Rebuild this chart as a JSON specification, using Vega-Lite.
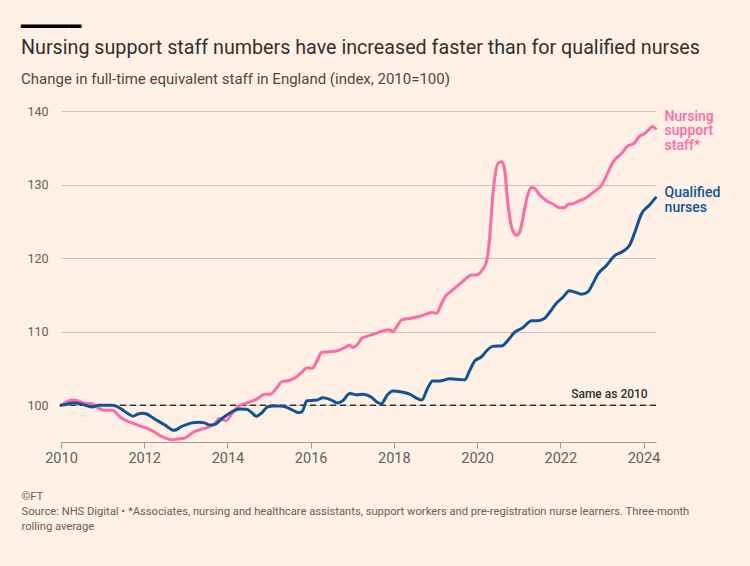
{
  "$schema": "https://vega.github.io/schema/vega-lite/v6.json",
  "background": "#FFF1E5",
  "padding": {"left": 21, "top": 17, "right": 35, "bottom": 40},
  "title": {"text": "━━━━━", "anchor": "start", "frame": "group", "dx": -40, "font": "DejaVu Sans", "fontWeight": "normal", "fontSize": 20, "color": "#000000", "offset": 1},
  "datasets": {
    "staff": [
      {"year": 2010.0, "series": "Nursing support staff", "index": 100.0},
      {"year": 2010.12, "series": "Nursing support staff", "index": 100.4},
      {"year": 2010.25, "series": "Nursing support staff", "index": 100.7},
      {"year": 2010.4, "series": "Nursing support staff", "index": 100.6},
      {"year": 2010.55, "series": "Nursing support staff", "index": 100.3},
      {"year": 2010.75, "series": "Nursing support staff", "index": 100.2},
      {"year": 2010.9, "series": "Nursing support staff", "index": 99.6},
      {"year": 2011.05, "series": "Nursing support staff", "index": 99.3},
      {"year": 2011.25, "series": "Nursing support staff", "index": 99.3},
      {"year": 2011.35, "series": "Nursing support staff", "index": 98.8},
      {"year": 2011.47, "series": "Nursing support staff", "index": 98.2},
      {"year": 2011.7, "series": "Nursing support staff", "index": 97.6},
      {"year": 2011.95, "series": "Nursing support staff", "index": 97.1},
      {"year": 2012.1, "series": "Nursing support staff", "index": 96.8},
      {"year": 2012.26, "series": "Nursing support staff", "index": 96.3},
      {"year": 2012.4, "series": "Nursing support staff", "index": 95.8},
      {"year": 2012.55, "series": "Nursing support staff", "index": 95.45},
      {"year": 2012.67, "series": "Nursing support staff", "index": 95.3},
      {"year": 2012.8, "series": "Nursing support staff", "index": 95.4},
      {"year": 2012.95, "series": "Nursing support staff", "index": 95.5},
      {"year": 2013.05, "series": "Nursing support staff", "index": 95.8},
      {"year": 2013.2, "series": "Nursing support staff", "index": 96.4},
      {"year": 2013.35, "series": "Nursing support staff", "index": 96.7},
      {"year": 2013.53, "series": "Nursing support staff", "index": 97.0},
      {"year": 2013.7, "series": "Nursing support staff", "index": 97.5},
      {"year": 2013.8, "series": "Nursing support staff", "index": 98.2},
      {"year": 2013.97, "series": "Nursing support staff", "index": 97.9},
      {"year": 2014.1, "series": "Nursing support staff", "index": 98.8},
      {"year": 2014.23, "series": "Nursing support staff", "index": 99.7},
      {"year": 2014.35, "series": "Nursing support staff", "index": 100.1},
      {"year": 2014.47, "series": "Nursing support staff", "index": 100.3},
      {"year": 2014.6, "series": "Nursing support staff", "index": 100.6},
      {"year": 2014.7, "series": "Nursing support staff", "index": 100.8},
      {"year": 2014.82, "series": "Nursing support staff", "index": 101.3},
      {"year": 2014.9, "series": "Nursing support staff", "index": 101.5},
      {"year": 2015.02, "series": "Nursing support staff", "index": 101.5},
      {"year": 2015.19, "series": "Nursing support staff", "index": 102.4},
      {"year": 2015.31, "series": "Nursing support staff", "index": 103.2},
      {"year": 2015.5, "series": "Nursing support staff", "index": 103.4},
      {"year": 2015.62, "series": "Nursing support staff", "index": 103.7},
      {"year": 2015.79, "series": "Nursing support staff", "index": 104.5},
      {"year": 2015.91, "series": "Nursing support staff", "index": 105.1},
      {"year": 2016.03, "series": "Nursing support staff", "index": 105.0},
      {"year": 2016.15, "series": "Nursing support staff", "index": 106.0},
      {"year": 2016.27, "series": "Nursing support staff", "index": 107.2},
      {"year": 2016.4, "series": "Nursing support staff", "index": 107.25},
      {"year": 2016.53, "series": "Nursing support staff", "index": 107.3},
      {"year": 2016.65, "series": "Nursing support staff", "index": 107.4},
      {"year": 2016.82, "series": "Nursing support staff", "index": 107.85},
      {"year": 2016.94, "series": "Nursing support staff", "index": 108.2},
      {"year": 2017.01, "series": "Nursing support staff", "index": 107.85},
      {"year": 2017.13, "series": "Nursing support staff", "index": 108.3},
      {"year": 2017.23, "series": "Nursing support staff", "index": 109.1},
      {"year": 2017.37, "series": "Nursing support staff", "index": 109.4},
      {"year": 2017.59, "series": "Nursing support staff", "index": 109.8},
      {"year": 2017.73, "series": "Nursing support staff", "index": 110.1},
      {"year": 2017.9, "series": "Nursing support staff", "index": 110.25},
      {"year": 2017.97, "series": "Nursing support staff", "index": 110.0},
      {"year": 2018.08, "series": "Nursing support staff", "index": 110.8},
      {"year": 2018.19, "series": "Nursing support staff", "index": 111.6},
      {"year": 2018.38, "series": "Nursing support staff", "index": 111.8},
      {"year": 2018.55, "series": "Nursing support staff", "index": 112.0},
      {"year": 2018.69, "series": "Nursing support staff", "index": 112.2},
      {"year": 2018.91, "series": "Nursing support staff", "index": 112.6},
      {"year": 2019.03, "series": "Nursing support staff", "index": 112.5},
      {"year": 2019.12, "series": "Nursing support staff", "index": 113.5},
      {"year": 2019.22, "series": "Nursing support staff", "index": 114.65},
      {"year": 2019.41, "series": "Nursing support staff", "index": 115.65},
      {"year": 2019.65, "series": "Nursing support staff", "index": 116.8},
      {"year": 2019.87, "series": "Nursing support staff", "index": 117.7},
      {"year": 2019.99, "series": "Nursing support staff", "index": 117.7},
      {"year": 2020.11, "series": "Nursing support staff", "index": 118.3},
      {"year": 2020.23, "series": "Nursing support staff", "index": 119.6},
      {"year": 2020.3, "series": "Nursing support staff", "index": 122.6},
      {"year": 2020.37, "series": "Nursing support staff", "index": 128.0},
      {"year": 2020.44, "series": "Nursing support staff", "index": 131.5},
      {"year": 2020.52, "series": "Nursing support staff", "index": 133.0},
      {"year": 2020.59, "series": "Nursing support staff", "index": 133.1},
      {"year": 2020.66, "series": "Nursing support staff", "index": 132.1},
      {"year": 2020.73, "series": "Nursing support staff", "index": 128.0},
      {"year": 2020.83, "series": "Nursing support staff", "index": 124.2},
      {"year": 2020.95, "series": "Nursing support staff", "index": 123.1},
      {"year": 2021.02, "series": "Nursing support staff", "index": 123.5},
      {"year": 2021.09, "series": "Nursing support staff", "index": 125.1},
      {"year": 2021.21, "series": "Nursing support staff", "index": 128.5},
      {"year": 2021.31, "series": "Nursing support staff", "index": 129.6},
      {"year": 2021.38, "series": "Nursing support staff", "index": 129.5},
      {"year": 2021.5, "series": "Nursing support staff", "index": 128.6},
      {"year": 2021.67, "series": "Nursing support staff", "index": 127.8},
      {"year": 2021.82, "series": "Nursing support staff", "index": 127.35},
      {"year": 2021.98, "series": "Nursing support staff", "index": 126.85},
      {"year": 2022.1, "series": "Nursing support staff", "index": 126.85},
      {"year": 2022.18, "series": "Nursing support staff", "index": 127.3},
      {"year": 2022.3, "series": "Nursing support staff", "index": 127.4},
      {"year": 2022.46, "series": "Nursing support staff", "index": 127.8},
      {"year": 2022.63, "series": "Nursing support staff", "index": 128.25},
      {"year": 2022.78, "series": "Nursing support staff", "index": 128.9},
      {"year": 2022.99, "series": "Nursing support staff", "index": 129.9},
      {"year": 2023.11, "series": "Nursing support staff", "index": 131.2},
      {"year": 2023.26, "series": "Nursing support staff", "index": 133.0},
      {"year": 2023.5, "series": "Nursing support staff", "index": 134.4},
      {"year": 2023.59, "series": "Nursing support staff", "index": 135.1},
      {"year": 2023.79, "series": "Nursing support staff", "index": 135.7},
      {"year": 2023.9, "series": "Nursing support staff", "index": 136.55},
      {"year": 2024.02, "series": "Nursing support staff", "index": 136.9},
      {"year": 2024.14, "series": "Nursing support staff", "index": 137.55},
      {"year": 2024.22, "series": "Nursing support staff", "index": 137.9},
      {"year": 2024.29, "series": "Nursing support staff", "index": 137.6},
      {"year": 2010.0, "series": "Qualified nurses", "index": 100.0},
      {"year": 2010.12, "series": "Qualified nurses", "index": 100.1},
      {"year": 2010.3, "series": "Qualified nurses", "index": 100.35},
      {"year": 2010.45, "series": "Qualified nurses", "index": 100.2},
      {"year": 2010.58, "series": "Qualified nurses", "index": 100.0},
      {"year": 2010.75, "series": "Qualified nurses", "index": 99.75},
      {"year": 2010.9, "series": "Qualified nurses", "index": 100.0},
      {"year": 2011.05, "series": "Qualified nurses", "index": 100.0},
      {"year": 2011.23, "series": "Qualified nurses", "index": 100.0},
      {"year": 2011.35, "series": "Qualified nurses", "index": 99.8},
      {"year": 2011.47, "series": "Qualified nurses", "index": 99.4},
      {"year": 2011.6, "series": "Qualified nurses", "index": 98.9},
      {"year": 2011.73, "series": "Qualified nurses", "index": 98.5},
      {"year": 2011.85, "series": "Qualified nurses", "index": 98.8},
      {"year": 2011.95, "series": "Qualified nurses", "index": 98.9},
      {"year": 2012.06, "series": "Qualified nurses", "index": 98.8},
      {"year": 2012.15, "series": "Qualified nurses", "index": 98.5},
      {"year": 2012.26, "series": "Qualified nurses", "index": 98.1},
      {"year": 2012.38, "series": "Qualified nurses", "index": 97.7},
      {"year": 2012.5, "series": "Qualified nurses", "index": 97.3},
      {"year": 2012.6, "series": "Qualified nurses", "index": 96.9},
      {"year": 2012.69, "series": "Qualified nurses", "index": 96.6},
      {"year": 2012.78, "series": "Qualified nurses", "index": 96.7},
      {"year": 2012.86, "series": "Qualified nurses", "index": 97.0},
      {"year": 2013.03, "series": "Qualified nurses", "index": 97.4},
      {"year": 2013.15, "series": "Qualified nurses", "index": 97.6},
      {"year": 2013.3, "series": "Qualified nurses", "index": 97.7},
      {"year": 2013.45, "series": "Qualified nurses", "index": 97.6},
      {"year": 2013.58, "series": "Qualified nurses", "index": 97.3},
      {"year": 2013.7, "series": "Qualified nurses", "index": 97.4},
      {"year": 2013.87, "series": "Qualified nurses", "index": 98.2},
      {"year": 2014.06, "series": "Qualified nurses", "index": 98.95},
      {"year": 2014.18, "series": "Qualified nurses", "index": 99.3},
      {"year": 2014.3, "series": "Qualified nurses", "index": 99.5},
      {"year": 2014.47, "series": "Qualified nurses", "index": 99.45},
      {"year": 2014.58, "series": "Qualified nurses", "index": 99.0},
      {"year": 2014.7, "series": "Qualified nurses", "index": 98.5},
      {"year": 2014.83, "series": "Qualified nurses", "index": 99.0},
      {"year": 2014.97, "series": "Qualified nurses", "index": 99.8},
      {"year": 2015.1, "series": "Qualified nurses", "index": 99.9},
      {"year": 2015.26, "series": "Qualified nurses", "index": 99.9},
      {"year": 2015.43, "series": "Qualified nurses", "index": 99.7},
      {"year": 2015.58, "series": "Qualified nurses", "index": 99.3},
      {"year": 2015.7, "series": "Qualified nurses", "index": 99.0},
      {"year": 2015.79, "series": "Qualified nurses", "index": 99.1},
      {"year": 2015.91, "series": "Qualified nurses", "index": 100.6},
      {"year": 2016.03, "series": "Qualified nurses", "index": 100.65},
      {"year": 2016.15, "series": "Qualified nurses", "index": 100.7},
      {"year": 2016.29, "series": "Qualified nurses", "index": 101.0},
      {"year": 2016.46, "series": "Qualified nurses", "index": 100.8},
      {"year": 2016.65, "series": "Qualified nurses", "index": 100.3},
      {"year": 2016.77, "series": "Qualified nurses", "index": 100.6},
      {"year": 2016.94, "series": "Qualified nurses", "index": 101.6},
      {"year": 2017.11, "series": "Qualified nurses", "index": 101.4},
      {"year": 2017.25, "series": "Qualified nurses", "index": 101.5},
      {"year": 2017.47, "series": "Qualified nurses", "index": 101.05},
      {"year": 2017.6, "series": "Qualified nurses", "index": 100.4},
      {"year": 2017.7, "series": "Qualified nurses", "index": 100.2},
      {"year": 2017.83, "series": "Qualified nurses", "index": 101.3},
      {"year": 2017.97, "series": "Qualified nurses", "index": 101.95},
      {"year": 2018.19, "series": "Qualified nurses", "index": 101.8},
      {"year": 2018.38, "series": "Qualified nurses", "index": 101.5},
      {"year": 2018.57, "series": "Qualified nurses", "index": 100.9},
      {"year": 2018.67, "series": "Qualified nurses", "index": 100.7},
      {"year": 2018.81, "series": "Qualified nurses", "index": 102.3},
      {"year": 2018.93, "series": "Qualified nurses", "index": 103.3},
      {"year": 2019.1, "series": "Qualified nurses", "index": 103.3},
      {"year": 2019.34, "series": "Qualified nurses", "index": 103.6},
      {"year": 2019.58, "series": "Qualified nurses", "index": 103.5},
      {"year": 2019.7, "series": "Qualified nurses", "index": 103.45},
      {"year": 2019.82, "series": "Qualified nurses", "index": 104.7},
      {"year": 2019.94, "series": "Qualified nurses", "index": 106.0},
      {"year": 2020.11, "series": "Qualified nurses", "index": 106.6},
      {"year": 2020.23, "series": "Qualified nurses", "index": 107.4},
      {"year": 2020.37, "series": "Qualified nurses", "index": 108.0},
      {"year": 2020.61, "series": "Qualified nurses", "index": 108.1},
      {"year": 2020.73, "series": "Qualified nurses", "index": 108.75},
      {"year": 2020.9, "series": "Qualified nurses", "index": 109.9},
      {"year": 2021.09, "series": "Qualified nurses", "index": 110.5},
      {"year": 2021.31, "series": "Qualified nurses", "index": 111.5},
      {"year": 2021.46, "series": "Qualified nurses", "index": 111.5},
      {"year": 2021.62, "series": "Qualified nurses", "index": 111.8},
      {"year": 2021.74, "series": "Qualified nurses", "index": 112.6},
      {"year": 2021.91, "series": "Qualified nurses", "index": 113.9},
      {"year": 2022.06, "series": "Qualified nurses", "index": 114.65},
      {"year": 2022.22, "series": "Qualified nurses", "index": 115.55},
      {"year": 2022.34, "series": "Qualified nurses", "index": 115.4},
      {"year": 2022.51, "series": "Qualified nurses", "index": 115.1},
      {"year": 2022.66, "series": "Qualified nurses", "index": 115.4},
      {"year": 2022.78, "series": "Qualified nurses", "index": 116.5},
      {"year": 2022.9, "series": "Qualified nurses", "index": 117.8},
      {"year": 2023.11, "series": "Qualified nurses", "index": 119.0},
      {"year": 2023.3, "series": "Qualified nurses", "index": 120.3},
      {"year": 2023.5, "series": "Qualified nurses", "index": 120.9},
      {"year": 2023.66, "series": "Qualified nurses", "index": 121.7},
      {"year": 2023.79, "series": "Qualified nurses", "index": 123.5},
      {"year": 2023.95, "series": "Qualified nurses", "index": 126.0},
      {"year": 2024.14, "series": "Qualified nurses", "index": 127.2},
      {"year": 2024.29, "series": "Qualified nurses", "index": 128.2}
    ],
    "labels": [
      {"year": 2024.29, "series": "Nursing support staff", "index": 137.6, "label": "Nursing\nsupport\nstaff*"},
      {"year": 2024.29, "series": "Qualified nurses", "index": 128.2, "label": "Qualified\nnurses"}
    ],
    "reference": [
      {"year": 2024.1, "index": 100, "label": "Same as 2010"}
    ]
  },
  "vconcat": [
    {
      "title": {
        "text": "Nursing support staff numbers have increased faster than for qualified nurses",
        "subtitle": "Change in full-time equivalent staff in England (index, 2010=100)",
        "anchor": "start",
        "frame": "group",
        "dx": -40,
        "font": "Roboto",
        "fontSize": 19.7,
        "fontWeight": "normal",
        "color": "#33302e",
        "subtitleFont": "Roboto",
        "subtitleFontSize": 15,
        "subtitleColor": "#4d4845",
        "subtitlePadding": 14,
        "offset": 18
      },
      "width": 595,
      "height": 331,
      "layer": [
        {
          "data": {"name": "reference"},
          "mark": {"type": "rule", "color": "#33302e", "strokeDash": [6, 4], "strokeWidth": 1.5},
          "encoding": {"y": {"datum": 100, "type": "quantitative"}}
        },
        {
          "data": {"name": "reference"},
          "mark": {"type": "text", "align": "right", "baseline": "bottom", "dy": -4, "font": "Roboto", "fontSize": 12, "fontWeight": 500, "color": "#33302e"},
          "encoding": {
            "x": {"field": "year", "type": "quantitative"},
            "y": {"field": "index", "type": "quantitative"},
            "text": {"field": "label"}
          }
        },
        {
          "data": {"name": "staff"},
          "mark": {"type": "line", "interpolate": "monotone", "strokeWidth": 3, "strokeCap": "round", "strokeJoin": "round"},
          "encoding": {
            "x": {
              "field": "year", "type": "quantitative",
              "scale": {"domain": [2010, 2024.3], "nice": false, "zero": false},
              "axis": {
                "values": [2010, 2012, 2014, 2016, 2018, 2020, 2022, 2024],
                "format": "d",
                "grid": false,
                "labelFlush": false,
                "domainColor": "#a39a92",
                "tickColor": "#a39a92",
                "tickSize": 6,
                "labelFont": "Roboto",
                "labelFontSize": 14.5,
                "labelColor": "#66605c",
                "labelPadding": 3,
                "title": ["©FT", "Source: NHS Digital • *Associates, nursing and healthcare assistants, support workers and pre-registration nurse learners. Three-month", "rolling average"],
                "titleFont": "Roboto",
                "titleFontSize": 11.2,
                "titleFontWeight": "normal",
                "titleColor": "#66605c",
                "titleAnchor": "start",
                "titleAlign": "left",
                "titleBaseline": "alphabetic",
                "titleX": -40,
                "titleY": 57,
                "titleLineHeight": 15
              }
            },
            "y": {
              "field": "index", "type": "quantitative",
              "scale": {"domain": [95, 140], "nice": false, "zero": false},
              "axis": {
                "values": [100, 110, 120, 130, 140],
                "grid": true,
                "gridColor": "#cec3b8",
                "domain": false,
                "ticks": false,
                "labelFont": "Roboto",
                "labelFontSize": 12.5,
                "labelColor": "#66605c",
                "labelPadding": 13,
                "title": null
              }
            },
            "color": {
              "field": "series", "type": "nominal",
              "scale": {"domain": ["Nursing support staff", "Qualified nurses"], "range": ["#ff6aa7", "#0f5499"]},
              "legend": null
            }
          }
        },
        {
          "data": {"name": "labels"},
          "transform": [{"filter": "datum.series === 'Nursing support staff'"}],
          "mark": {"type": "text", "align": "left", "baseline": "middle", "dx": 9, "dy": -12, "lineBreak": "\n", "lineHeight": 14.5, "font": "Roboto", "fontSize": 14, "fontWeight": 500},
          "encoding": {
            "x": {"field": "year", "type": "quantitative"},
            "y": {"field": "index", "type": "quantitative"},
            "text": {"field": "label"},
            "color": {"field": "series", "type": "nominal", "legend": null}
          }
        },
        {
          "data": {"name": "labels"},
          "transform": [{"filter": "datum.series === 'Qualified nurses'"}],
          "mark": {"type": "text", "align": "left", "baseline": "middle", "dx": 9, "dy": -5, "lineBreak": "\n", "lineHeight": 15, "font": "Roboto", "fontSize": 14, "fontWeight": 500},
          "encoding": {
            "x": {"field": "year", "type": "quantitative"},
            "y": {"field": "index", "type": "quantitative"},
            "text": {"field": "label"},
            "color": {"field": "series", "type": "nominal", "legend": null}
          }
        }
      ]
    }
  ],
  "config": {
    "view": {"stroke": null},
    "concat": {"spacing": 0}
  }
}
